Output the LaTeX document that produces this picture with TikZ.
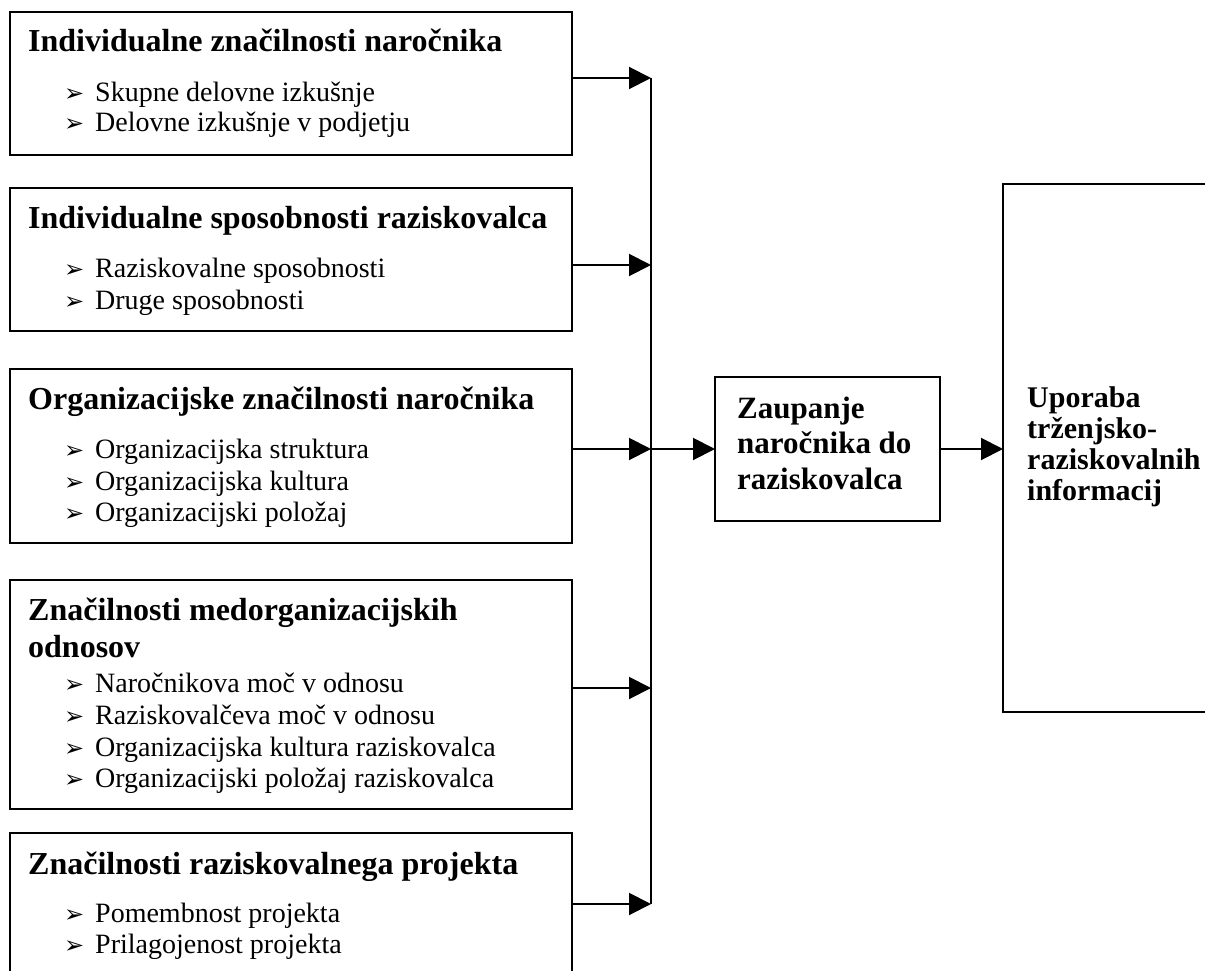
\documentclass[tikz,border=0pt]{standalone}
\usepackage{fontspec}
\setmainfont{Liberation Serif}
\newfontfamily\bulfont{DejaVu Sans}
\usetikzlibrary{arrows.meta}

% one bullet line inside a factor box: name, baseline, text
\newcommand\factoritem[3]{%
  \node[bul] (#1b) at (64,#2) {➢};
  \node[item] (#1) at (95,#2) {#3};
}

\begin{document}
\begin{tikzpicture}[x=1pt, y=-1pt,
  box/.style={draw, rectangle, line width=2.2pt, inner sep=0pt, outer sep=0pt},
  title/.style={anchor=base west, inner sep=0pt, font=\fontsize{32}{37}\selectfont\bfseries},
  item/.style={anchor=base west, inner sep=0pt, font=\fontsize{28}{32}\selectfont},
  bul/.style={anchor=base west, inner sep=0pt, font=\bulfont\fontsize{24}{24}\selectfont},
  bigtext/.style={anchor=base west, inner sep=0pt, font=\fontsize{31}{35}\selectfont\bfseries},
  restext/.style={anchor=base west, inner sep=0pt, font=\fontsize{30}{31}\selectfont\bfseries},
  conn/.style={line width=2pt},
  arr/.style={line width=2pt, -{Triangle[length=22pt,width=22pt]}},
]
\useasboundingbox (0,0) rectangle (1205,971);
\clip (0,0) rectangle (1205,971);

% factor boxes
\node[box, minimum width=562pt, minimum height=143pt] (b1) at (291,83.5) {};
\node[box, minimum width=562pt, minimum height=143pt] (b2) at (291,259.5) {};
\node[box, minimum width=562pt, minimum height=174pt] (b3) at (291,456) {};
\node[box, minimum width=562pt, minimum height=229pt] (b4) at (291,694.5) {};
\node[box, minimum width=562pt, minimum height=170pt] (b5) at (291,918) {};

% trust box and outcome box
\node[box, minimum width=225pt, minimum height=144pt] (mid) at (827.5,449) {};
\node[box, minimum width=230pt, minimum height=528pt] (res) at (1118,448) {};

% box 1
\node[title] (t1) at (28,52) {Individualne značilnosti naročnika};
\factoritem{i11}{102}{Skupne delovne izkušnje}
\factoritem{i12}{132}{Delovne izkušnje v podjetju}

% box 2
\node[title] (t2) at (28,228) {Individualne sposobnosti raziskovalca};
\factoritem{i21}{277}{Raziskovalne sposobnosti}
\factoritem{i22}{309}{Druge sposobnosti}

% box 3
\node[title] (t3) at (28,409) {Organizacijske značilnosti naročnika};
\factoritem{i31}{458}{Organizacijska struktura}
\factoritem{i32}{490}{Organizacijska kultura}
\factoritem{i33}{521}{Organizacijski položaj}

% box 4
\node[title] (t4a) at (28,620) {Značilnosti medorganizacijskih};
\node[title] (t4b) at (28,657) {odnosov};
\factoritem{i41}{692}{Naročnikova moč v odnosu}
\factoritem{i42}{724}{Raziskovalčeva moč v odnosu}
\factoritem{i43}{756}{Organizacijska kultura raziskovalca}
\factoritem{i44}{787}{Organizacijski položaj raziskovalca}

% box 5
\node[title] (t5) at (28,874) {Značilnosti raziskovalnega projekta};
\factoritem{i51}{922}{Pomembnost projekta}
\factoritem{i52}{953}{Prilagojenost projekta}

% trust box text
\node[bigtext] (m1) at (737,418) {Zaupanje};
\node[bigtext] (m2) at (737,453) {naročnika do};
\node[bigtext] (m3) at (737,489) {raziskovalca};

% outcome box text
\node[restext] (r1) at (1027,407) {Uporaba};
\node[restext] (r2) at (1027,438) {trženjsko-};
\node[restext] (r3) at (1027,469) {raziskovalnih};
\node[restext] (r4) at (1027,500) {informacij};

% collector line and arrows
\coordinate (j1) at (651,78);
\coordinate (j2) at (651,265);
\coordinate (j3) at (651,449);
\coordinate (j4) at (651,688);
\coordinate (j5) at (651,904);
\draw[conn] (j1) -- (j5);
\draw[arr] (b1.east |- j1) -- (j1);
\draw[arr] (b2.east |- j2) -- (j2);
\draw[arr] (b3.east |- j3) -- (j3);
\draw[arr] (b4.east |- j4) -- (j4);
\draw[arr] (b5.east |- j5) -- (j5);
\draw[arr] (j3) -- (mid.west);
\draw[arr] (mid.east) -- (res.west |- mid.east);
\end{tikzpicture}
\end{document}
